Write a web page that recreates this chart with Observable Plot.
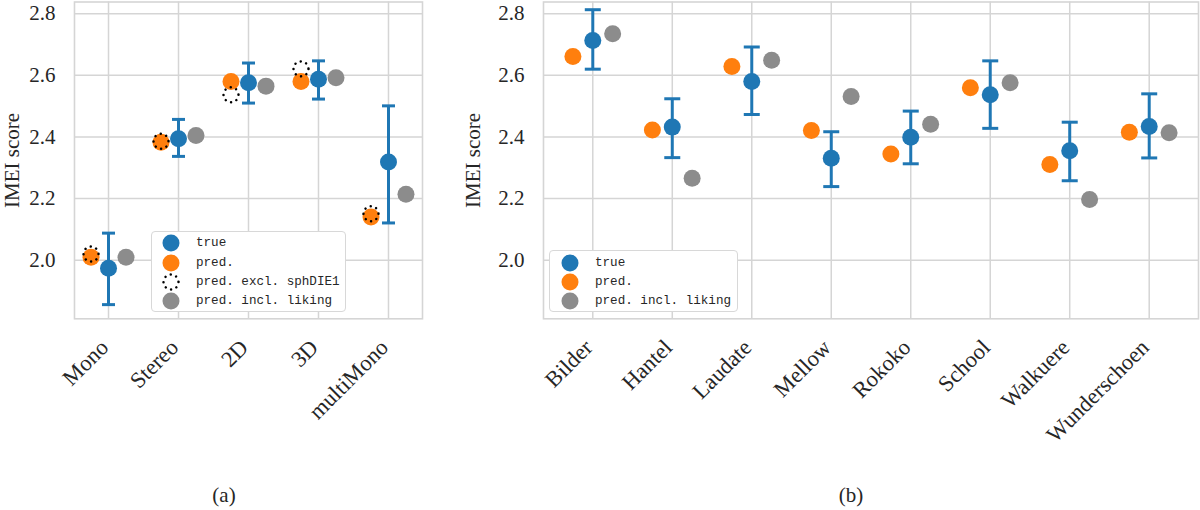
<!DOCTYPE html>
<html><head><meta charset="utf-8">
<script src="https://cdn.jsdelivr.net/npm/d3@7"></script>
<script src="https://cdn.jsdelivr.net/npm/@observablehq/plot@0.6"></script>
<style>
body{margin:0;background:#fff;}
#wrap{position:relative;width:1200px;height:510px;overflow:hidden;font-family:"Liberation Serif",serif;color:#262626;background:#fff;}
#wrap > svg{position:absolute;top:0;}
.legend{position:absolute;background:#fff;border:1.3px solid #d8d8d8;border-radius:4px;box-sizing:border-box;font-family:"Liberation Mono",monospace;font-size:12.6px;color:#262626;}
.row{position:absolute;height:20px;line-height:20px;white-space:pre;transform:translateY(-50%);}
.mk{position:absolute;transform:translate(-50%,-50%);}
.caption{position:absolute;font-size:21px;line-height:24px;transform:translateX(-50%);}
</style></head><body><div id="wrap"></div>
<script>
// ---- data: panel (a) ----
const catsA   = ["Mono","Stereo","2D","3D","multiMono"];
const trueA   = [1.974, 2.394, 2.576, 2.587, 2.319];
const errLoA  = [1.856, 2.337, 2.510, 2.523, 2.121];
const errHiA  = [2.088, 2.457, 2.640, 2.647, 2.501];
const predA   = [2.010, 2.383, 2.580, 2.580, 2.140];
const exclA   = [2.020, 2.386, 2.537, 2.621, 2.151];
const likingA = [2.010, 2.405, 2.565, 2.592, 2.214];
// ---- data: panel (b) ----
const catsB   = ["Bilder","Hantel","Laudate","Mellow","Rokoko","School","Walkuere","Wunderschoen"];
const trueB   = [2.713, 2.432, 2.580, 2.331, 2.399, 2.537, 2.355, 2.434];
const errLoB  = [2.620, 2.333, 2.473, 2.239, 2.313, 2.428, 2.258, 2.332];
const errHiB  = [2.813, 2.524, 2.692, 2.417, 2.484, 2.647, 2.448, 2.540];
const predB   = [2.661, 2.423, 2.629, 2.421, 2.345, 2.560, 2.311, 2.415];
const likingB = [2.735, 2.266, 2.649, 2.531, 2.441, 2.576, 2.197, 2.414];
const yTicks  = [2.0, 2.2, 2.4, 2.6, 2.8];
const yTickLabels = ["2.0","2.2","2.4","2.6","2.8"];

const BLUE = "#1f77b4", ORANGE = "#ff7f0e", GREY = "#8c8c8c", GRID = "#d5d5d5";

function panel({cats, tru, lo, hi, pred, excl, liking, width, marginLeft, marginRight, pad, capR, labelOffset}) {
  const rows = cats.map((c, i) => ({c, i, t: tru[i], lo: lo[i], hi: hi[i], p: pred[i], e: excl ? excl[i] : null, l: liking[i]}));
  const capSym = {draw(ctx, size) { const r = Math.sqrt(size / Math.PI); ctx.moveTo(-r, 0); ctx.lineTo(r, 0); }};
  const off = 0.25;
  const idx = d3.range(cats.length);
  const marks = [
    Plot.gridX(idx, {stroke: GRID, strokeOpacity: 1, strokeWidth: 1.5}),
    Plot.gridY(yTicks, {stroke: GRID, strokeOpacity: 1, strokeWidth: 1.5}),
    Plot.frame({stroke: GRID, strokeWidth: 1.6}),
    Plot.axisX(idx, {tickFormat: i => cats[i], tickRotate: -45, tickSize: 0, tickPadding: 25, dx: -4, fontSize: 22.5, label: null}),
    Plot.axisY(yTicks, {tickFormat: (d, i) => yTickLabels[i], tickSize: 0, tickPadding: 19, label: "IMEI score", labelAnchor: "center", labelArrow: "none", labelOffset}),
    Plot.dot(rows, {x: d => d.i - off, y: "p", r: 8.5, fill: ORANGE}),
    excl ? Plot.dot(rows, {x: d => d.i - off, y: "e", r: 7.5, fill: "none", stroke: "#000", strokeWidth: 2.5, strokeDasharray: "0.01 5.8", strokeLinecap: "round"}) : null,
    Plot.dot(rows, {x: d => d.i + off, y: "l", r: 8.5, fill: GREY}),
    Plot.ruleX(rows, {x: "i", y1: "lo", y2: "hi", stroke: BLUE, strokeWidth: 3}),
    Plot.dot(rows, {x: "i", y: "lo", symbol: capSym, r: capR, stroke: BLUE, strokeWidth: 3, fill: "none"}),
    Plot.dot(rows, {x: "i", y: "hi", symbol: capSym, r: capR, stroke: BLUE, strokeWidth: 3, fill: "none"}),
    Plot.dot(rows, {x: "i", y: "t", r: 8.5, fill: BLUE})
  ].filter(Boolean);
  return Plot.plot({
    width, height: 420, marginLeft, marginRight, marginTop: 1.5, marginBottom: 101.7,
    style: {background: "#fff", fontFamily: "'Liberation Serif', serif", fontSize: "21px", color: "#262626", overflow: "visible"},
    x: {type: "linear", domain: [-pad, cats.length - 1 + pad]},
    y: {domain: [1.810, 2.838]},
    marks
  });
}

const wrap = document.getElementById("wrap");
const svgA = panel({cats: catsA, tru: trueA, lo: errLoA, hi: errHiA, pred: predA, excl: exclA, liking: likingA,
  width: 430, marginLeft: 74, marginRight: 8, pad: 0.486, capR: 6.5, labelOffset: 70});
svgA.style.left = "0px";
wrap.appendChild(svgA);
const svgB = panel({cats: catsB, tru: trueB, lo: errLoB, hi: errHiB, pred: predB, excl: null, liking: likingB,
  width: 730, marginLeft: 73, marginRight: 2, pad: 0.62, capR: 8, labelOffset: 78});
svgB.style.left = "470px";
wrap.appendChild(svgB);

function marker(kind) {
  const s = `<svg width="22" height="22" viewBox="-11 -11 22 22">` +
    (kind === "excl"
      ? `<circle r="7.5" fill="none" stroke="#000" stroke-width="2.5" stroke-dasharray="0.01 5.8" stroke-linecap="round"/>`
      : `<circle r="8.5" fill="${kind}"/>`) + `</svg>`;
  return s;
}
function legend(left, top, w, h, items, rowYs, mx, tx) {
  const div = document.createElement("div");
  div.className = "legend";
  Object.assign(div.style, {left: left + "px", top: top + "px", width: w + "px", height: h + "px"});
  items.forEach(([kind, label], k) => {
    const m = document.createElement("div");
    m.className = "mk"; m.style.left = mx + "px"; m.style.top = rowYs[k] + "px";
    m.style.height = "22px"; m.innerHTML = marker(kind);
    div.appendChild(m);
    const t = document.createElement("div");
    t.className = "row"; t.style.left = tx + "px"; t.style.top = rowYs[k] + "px";
    t.textContent = label;
    div.appendChild(t);
  });
  wrap.appendChild(div);
}
legend(150.7, 230.7, 195, 81, [[BLUE, "true"], [ORANGE, "pred."], ["excl", "pred. excl. sphDIE1"], [GREY, "pred. incl. liking"]],
  [11.3, 31.0, 50.3, 69.3], 19.3, 44.3);
legend(549, 250, 189, 62, [[BLUE, "true"], [ORANGE, "pred."], [GREY, "pred. incl. liking"]],
  [12, 31, 50], 20, 45);

for (const [txt, x] of [["(a)", 224], ["(b)", 851]]) {
  const c = document.createElement("div");
  c.className = "caption"; c.textContent = txt;
  c.style.left = x + "px"; c.style.top = "483px";
  wrap.appendChild(c);
}
</script></body></html>
